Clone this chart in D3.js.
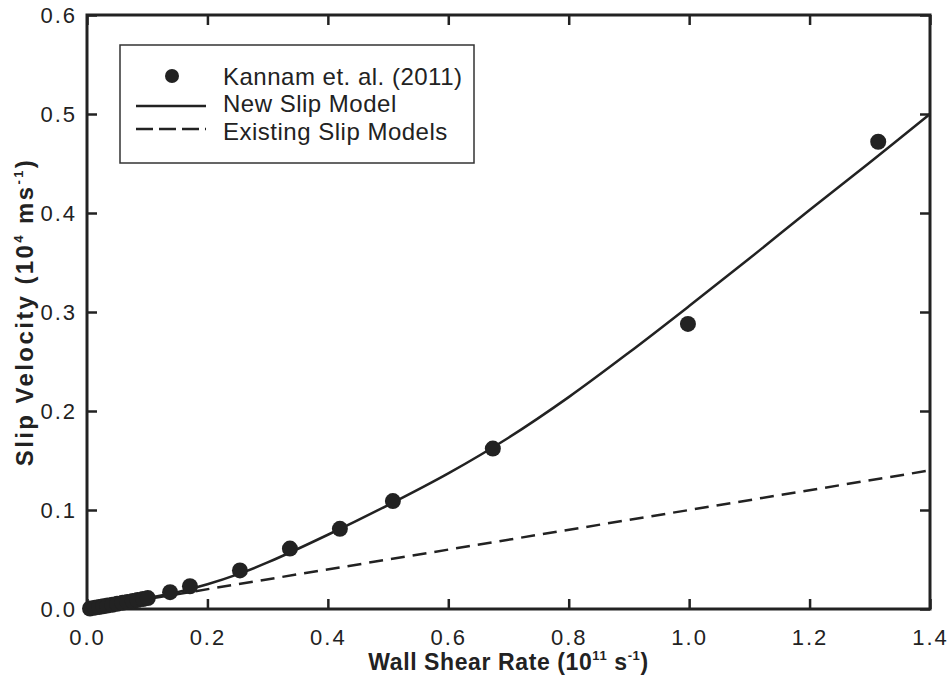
<!DOCTYPE html>
<html>
<head>
<meta charset="utf-8">
<script src="https://cdn.jsdelivr.net/npm/d3@7"></script>
<style>
  body { margin: 0; background: #fff; }
  text { font-family: "Liberation Sans", Arial, sans-serif; fill: #222; }
</style>
</head>
<body>
<script>
// Kannam et. al. (2011) data points
var kannamX = [0.005, 0.013, 0.02, 0.027, 0.034, 0.042, 0.05, 0.059, 0.067, 0.076, 0.084, 0.093, 0.101,
               0.138, 0.171, 0.254, 0.337, 0.420, 0.508, 0.674, 0.998, 1.314];
var kannamY = [0.0005, 0.0013, 0.002, 0.0028, 0.0035, 0.0043, 0.0052, 0.0062, 0.0071, 0.0081, 0.009, 0.0101, 0.011,
               0.017, 0.023, 0.039, 0.061, 0.081, 0.109, 0.162, 0.288, 0.472];

// New slip model curve
var newX = [0, 0.05, 0.1, 0.15, 0.2, 0.25, 0.3, 0.4, 0.5, 0.6, 0.7, 0.8, 0.9, 1.0, 1.1, 1.2, 1.3, 1.4];
var newY = [0, 0.005, 0.011, 0.017, 0.025, 0.035, 0.047, 0.075, 0.105, 0.137, 0.173, 0.214, 0.259, 0.306, 0.354, 0.403, 0.451, 0.5];

// Existing slip models (straight line)
var oldX = [0, 1.4];
var oldY = [0, 0.14];

var xTicks = [0, 0.2, 0.4, 0.6, 0.8, 1.0, 1.2, 1.4];
var yTicks = [0, 0.1, 0.2, 0.3, 0.4, 0.5, 0.6];

var legendLabels = ["Kannam et. al. (2011)", "New Slip Model", "Existing Slip Models"];

var screen = {width: 952, height: 684};
var margin = {left: 87, right: 22, top: 15, bottom: 75};
var ink = "#222";

var svg = d3.select("body")
            .append("svg")
            .attr("width", screen.width)
            .attr("height", screen.height);

var x = d3.scaleLinear()
          .domain([0, 1.4])
          .range([margin.left, screen.width - margin.right]);

var y = d3.scaleLinear()
          .domain([0, 0.6])
          .range([screen.height - margin.bottom, margin.top]);

var fmt = d3.format(".1f");
var tickLen = 10;

// axes, ticks pointing inward
svg.append("g")
   .attr("transform", "translate(0," + y(0) + ")")
   .call(d3.axisBottom(x).tickValues(xTicks).tickSize(-tickLen).tickPadding(20).tickFormat(fmt))
   .call(styleAxis);

svg.append("g")
   .attr("transform", "translate(0," + y(0.6) + ")")
   .call(d3.axisTop(x).tickValues(xTicks).tickSize(-tickLen).tickFormat(""))
   .call(styleAxis);

svg.append("g")
   .attr("transform", "translate(" + x(0) + ",0)")
   .call(d3.axisLeft(y).tickValues(yTicks).tickSize(-tickLen).tickPadding(10).tickFormat(fmt))
   .call(styleAxis);

svg.append("g")
   .attr("transform", "translate(" + x(1.4) + ",0)")
   .call(d3.axisRight(y).tickValues(yTicks).tickSize(-tickLen).tickFormat(""))
   .call(styleAxis);

function styleAxis(g) {
  g.select(".domain").remove();
  g.selectAll(".tick line").attr("stroke", ink).attr("stroke-width", 2.5);
  g.selectAll(".tick text")
   .attr("font-size", 22)
   .attr("letter-spacing", 2)
   .attr("fill", ink)
   .style("font-family", "'Liberation Sans', Arial, sans-serif");
}

// frame
svg.append("rect")
   .attr("x", x(0))
   .attr("y", y(0.6))
   .attr("width", x(1.4) - x(0))
   .attr("height", y(0) - y(0.6))
   .attr("fill", "none")
   .attr("stroke", ink)
   .attr("stroke-width", 3);

var line = d3.line()
             .x(function(d) { return x(d[0]); })
             .y(function(d) { return y(d[1]); });

svg.append("path")
   .attr("d", line(d3.zip(oldX, oldY)))
   .attr("fill", "none")
   .attr("stroke", ink)
   .attr("stroke-width", 2.5)
   .attr("stroke-dasharray", "14,8");

svg.append("path")
   .attr("d", line.curve(d3.curveCatmullRom)(d3.zip(newX, newY)))
   .attr("fill", "none")
   .attr("stroke", ink)
   .attr("stroke-width", 2.5);

svg.append("g")
   .selectAll("circle")
   .data(d3.zip(kannamX, kannamY))
   .enter()
   .append("circle")
   .attr("cx", function(d) { return x(d[0]); })
   .attr("cy", function(d) { return y(d[1]); })
   .attr("r", 8)
   .attr("fill", ink);

// axis titles
var xt = svg.append("text")
            .attr("x", (x(0) + x(1.4)) / 2)
            .attr("y", 670)
            .attr("text-anchor", "middle")
            .attr("font-size", 23)
            .attr("letter-spacing", 0.6)
            .attr("font-weight", "bold");
xt.append("tspan").text("Wall Shear Rate (10");
xt.append("tspan").attr("font-size", 13).attr("dy", -10).text("11");
xt.append("tspan").attr("dy", 10).text(" s");
xt.append("tspan").attr("font-size", 13).attr("dy", -10).text("-1");
xt.append("tspan").attr("dy", 10).text(")");

var yt = svg.append("text")
            .attr("transform", "translate(33," + ((y(0) + y(0.6)) / 2) + ") rotate(-90)")
            .attr("text-anchor", "middle")
            .attr("font-size", 24)
            .attr("letter-spacing", 2.4)
            .attr("font-weight", "bold");
yt.append("tspan").text("Slip Velocity (10");
yt.append("tspan").attr("font-size", 13).attr("dy", -10).text("4");
yt.append("tspan").attr("dy", 10).text(" ms");
yt.append("tspan").attr("font-size", 13).attr("dy", -10).text("-1");
yt.append("tspan").attr("dy", 10).text(")");

// legend
var legend = svg.append("g");

legend.append("rect")
      .attr("x", 120)
      .attr("y", 45)
      .attr("width", 354)
      .attr("height", 118)
      .attr("fill", "#fff")
      .attr("stroke", "#333")
      .attr("stroke-width", 1.5);

var symY = [76, 106, 129];
var textY = [85, 112, 140];

legend.append("circle")
      .attr("cx", 172)
      .attr("cy", symY[0])
      .attr("r", 7)
      .attr("fill", ink);

legend.append("line")
      .attr("x1", 136).attr("x2", 206)
      .attr("y1", symY[1]).attr("y2", symY[1])
      .attr("stroke", ink)
      .attr("stroke-width", 2.5);

legend.append("line")
      .attr("x1", 136).attr("x2", 206)
      .attr("y1", symY[2]).attr("y2", symY[2])
      .attr("stroke", ink)
      .attr("stroke-width", 2.5)
      .attr("stroke-dasharray", "17,6");

legend.selectAll(".lab")
      .data(legendLabels)
      .enter()
      .append("text")
      .attr("class", "lab")
      .attr("x", 223)
      .attr("y", function(d, i) { return textY[i]; })
      .attr("font-size", 24)
      .attr("letter-spacing", 0.5)
      .text(function(d) { return d; });
</script>
</body>
</html>
